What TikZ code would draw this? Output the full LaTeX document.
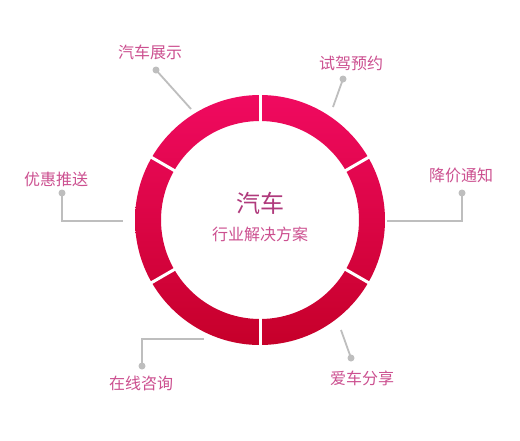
\documentclass[tikz,border=0pt]{standalone}
\usepackage{fontspec}
\newfontfamily\cjk{Noto Sans CJK SC}
\definecolor{ringtop}{RGB}{240,10,96}
\definecolor{ringbot}{RGB}{198,0,42}
\definecolor{lblcol}{RGB}{204,80,144}
\definecolor{titlecol}{RGB}{176,58,124}
\definecolor{leadcol}{RGB}{190,190,190}
\begin{document}
\begin{tikzpicture}[x=1pt,y=-1pt,
  lbl/.style={font=\cjk\fontsize{16}{18}\selectfont, text=lblcol, inner sep=0pt},
  dotnode/.style={circle, fill=leadcol, minimum size=7pt, inner sep=0pt},
  lead/.style={draw=leadcol, line width=1.8pt},
  gap/.style={draw=white, line width=3pt}]
\useasboundingbox (0,0) rectangle (520,440);
\fill[white] (0,0) rectangle (520,440);
% ring
\shade[even odd rule, top color=ringtop, bottom color=ringbot]
  (260,220) circle (125) (260,220) circle (99);
\foreach \a in {90,30,-30,-90,-150,150}
  \draw[gap, shift={(260,220)}] (\a:96) -- (\a:128);
% centre text
\node[font=\cjk\fontsize{24}{26}\selectfont, text=titlecol, inner sep=0pt] (title) at (260,203) {汽车};
\node[lbl, text=lblcol] (sub) at (260,234) {行业解决方案};
% labels
\node[lbl] (l1) at (150,52) {汽车展示};
\node[lbl] (l2) at (351,63) {试驾预约};
\node[lbl] (l3) at (461,175) {降价通知};
\node[lbl] (l4) at (56,179) {优惠推送};
\node[lbl] (l5) at (141,383) {在线咨询};
\node[lbl] (l6) at (362,378) {爱车分享};
% leader ends
\coordinate (e1) at (191,109);
\coordinate (e2) at (333,107);
\coordinate (e3) at (387,221);
\coordinate (e4) at (123,221);
\coordinate (e5) at (204,339);
\coordinate (e6) at (341,330);
% dots
\node[dotnode] (d1) at (156,70) {};
\node[dotnode] (d2) at (343,79) {};
\node[dotnode] (d3) at (462,193) {};
\node[dotnode] (d4) at (62,193) {};
\node[dotnode] (d5) at (142,366) {};
\node[dotnode] (d6) at (351,358) {};
% leaders
\draw[lead] (d1.center) -- (e1);
\draw[lead] (d2.center) -- (e2);
\draw[lead] (d3.center) |- (e3);
\draw[lead] (d4.center) |- (e4);
\draw[lead] (d5.center) |- (e5);
\draw[lead] (d6.center) -- (e6);
\end{tikzpicture}
\end{document}
